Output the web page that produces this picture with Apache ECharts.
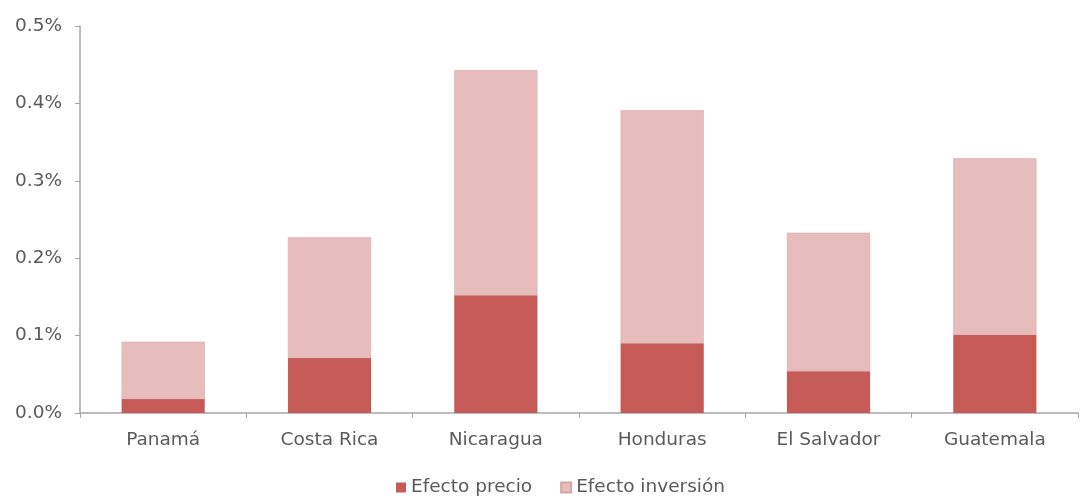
<!DOCTYPE html>
<html><head><meta charset="utf-8">
<script src="https://cdn.jsdelivr.net/npm/echarts@6/dist/echarts.min.js"></script>
<style>html,body{margin:0;padding:0;background:#fff}#c{width:1082px;height:498px}</style>
</head><body><div id="c"></div>
<script>
const categories = ["Panamá","Costa Rica","Nicaragua","Honduras","El Salvador","Guatemala"];
const efectoPrecio = [0.018, 0.071, 0.152, 0.090, 0.054, 0.101];
const efectoInversion = [0.074, 0.156, 0.291, 0.301, 0.179, 0.228];
const yTicks = [0, 0.1, 0.2, 0.3, 0.4, 0.5];

const chart = echarts.init(document.getElementById('c'));
const font = 'DejaVu Sans, Verdana, sans-serif';
chart.setOption({
  animation: false,
  grid: {left: 80, right: 4, top: 26, bottom: 85},
  legend: {
    top: 478, left: 396, itemWidth: 10, itemHeight: 10, itemGap: 28,
    icon: 'rect', padding: 0,
    textStyle: {fontFamily: font, fontSize: 18.5, color: '#5a5a5a'},
    data: ['Efecto precio', 'Efecto inversión']
  },
  xAxis: {
    type: 'category', data: categories,
    axisLine: {lineStyle: {color: '#A6A6A6', width: 1.5}},
    axisTick: {show: true, length: 5, lineStyle: {color: '#A6A6A6'}},
    axisLabel: {fontFamily: font, fontSize: 18.5, color: '#5a5a5a', margin: 18}
  },
  yAxis: {
    type: 'value', min: yTicks[0], max: yTicks[yTicks.length-1], interval: 0.1,
    axisLine: {show: true, lineStyle: {color: '#A6A6A6', width: 1.5}},
    axisTick: {show: true, length: 5, lineStyle: {color: '#A6A6A6'}},
    splitLine: {show: false},
    axisLabel: {fontFamily: font, fontSize: 18.5, color: '#5a5a5a', margin: 18,
      formatter: v => v.toFixed(1) + '%'}
  },
  series: [
    {name: 'Efecto precio', type: 'bar', stack: 's', data: efectoPrecio, barWidth: '50%',
      itemStyle: {color: '#C55A57'}},
    {name: 'Efecto inversión', type: 'bar', stack: 's', data: efectoInversion, barWidth: '50%',
      itemStyle: {color: '#E6BCBC', borderColor: '#D4A5A5', borderWidth: 0.5}}
  ]
});
</script></body></html>
